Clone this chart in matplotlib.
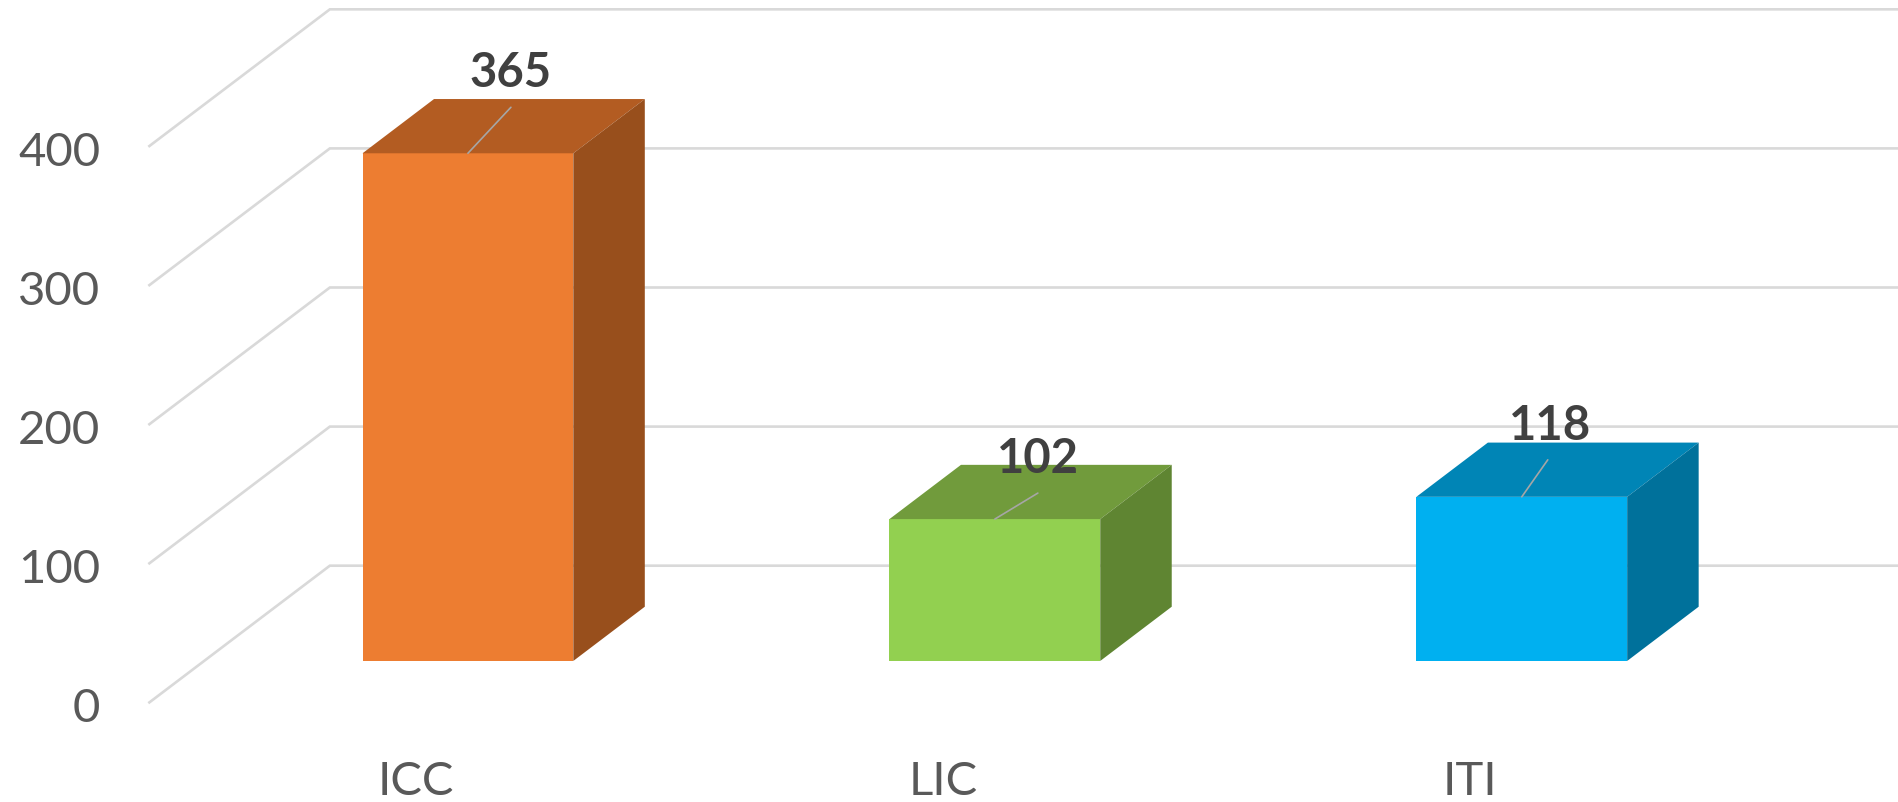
# 3D style column chart, ICC / LIC / ITI
import matplotlib
matplotlib.use("Agg")
import matplotlib.pyplot as plt

plt.rcParams['font.family'] = ['Lato', 'DejaVu Sans']

# data
CATEGORIES = ["ICC", "LIC", "ITI"]
VALUES = [365, 102, 118]
Y_TICKS = [0, 100, 200, 300, 400]

# colours for each bar
FRONT_COLORS = ["#ED7D31", "#92D050", "#00B0F0"]
TOP_COLORS = ["#B35C22", "#719B3C", "#0085B6"]
SIDE_COLORS = ["#984F1C", "#5F8532", "#00719B"]

# label and leader offsets from the middle of the bar top, in pixels
LABEL_OFFSETS = [(43, 84), (43, 64), (28, 75)]
LEADER_OFFSETS = [(43, 46), (43, 26), (26, 37)]

# fake perspective, in data units
BAR_WIDTH = 0.4
DEPTH_X = 0.1357
DEPTH_Y = 39
BACK_X = -0.262
FRONT_X = -0.6045
BACK_Y = 68.5
FRONT_Y = -29.8

GRID = "#D9D9D9"
TEXT = "#595959"

fig = plt.figure(figsize=(18.98, 8.02), dpi=100)
ax = fig.add_axes([0, 0, 1, 1])
ax.set_xlim(-0.888, 2.714)
ax.set_ylim(-101.4, 475.2)
ax.axis('off')

# floor and walls
for tick in Y_TICKS:
    ax.plot([FRONT_X, BACK_X, 2.714], [tick + FRONT_Y, tick + BACK_Y, tick + BACK_Y],
            color=GRID, lw=1.9, zorder=1, solid_joinstyle='miter')
    ax.text(FRONT_X - 0.0935, tick + FRONT_Y - 2, str(tick), ha='right', va='center_baseline',
            fontsize=34, color=TEXT)

# bars
for i, (name, val) in enumerate(zip(CATEGORIES, VALUES)):
    left = i - BAR_WIDTH / 2
    right = i + BAR_WIDTH / 2
    ax.bar(i, val, width=BAR_WIDTH, color=FRONT_COLORS[i], zorder=3)
    ax.fill([left, right, right + DEPTH_X, left + DEPTH_X],
            [val, val, val + DEPTH_Y, val + DEPTH_Y],
            color=TOP_COLORS[i], lw=0, zorder=3)
    ax.fill([right, right + DEPTH_X, right + DEPTH_X, right],
            [0, DEPTH_Y, val + DEPTH_Y, val],
            color=SIDE_COLORS[i], lw=0, zorder=3)
    ax.annotate('', xy=(i, val), xycoords='data',
                xytext=LEADER_OFFSETS[i], textcoords='offset pixels',
                arrowprops=dict(arrowstyle='-', color='#A6A6A6', lw=1.2,
                                shrinkA=0, shrinkB=0), zorder=4)
    ax.annotate(str(val), xy=(i, val), xycoords='data',
                xytext=LABEL_OFFSETS[i], textcoords='offset pixels',
                ha='center', va='center_baseline', fontsize=34, fontweight='bold',
                color='#404040', zorder=5)
    # category names sit a bit left of the bar centre
    ax.text(i - 0.098, -84, name, ha='center', va='center_baseline', fontsize=34, color=TEXT)

fig.savefig("out.png", dpi=100)
